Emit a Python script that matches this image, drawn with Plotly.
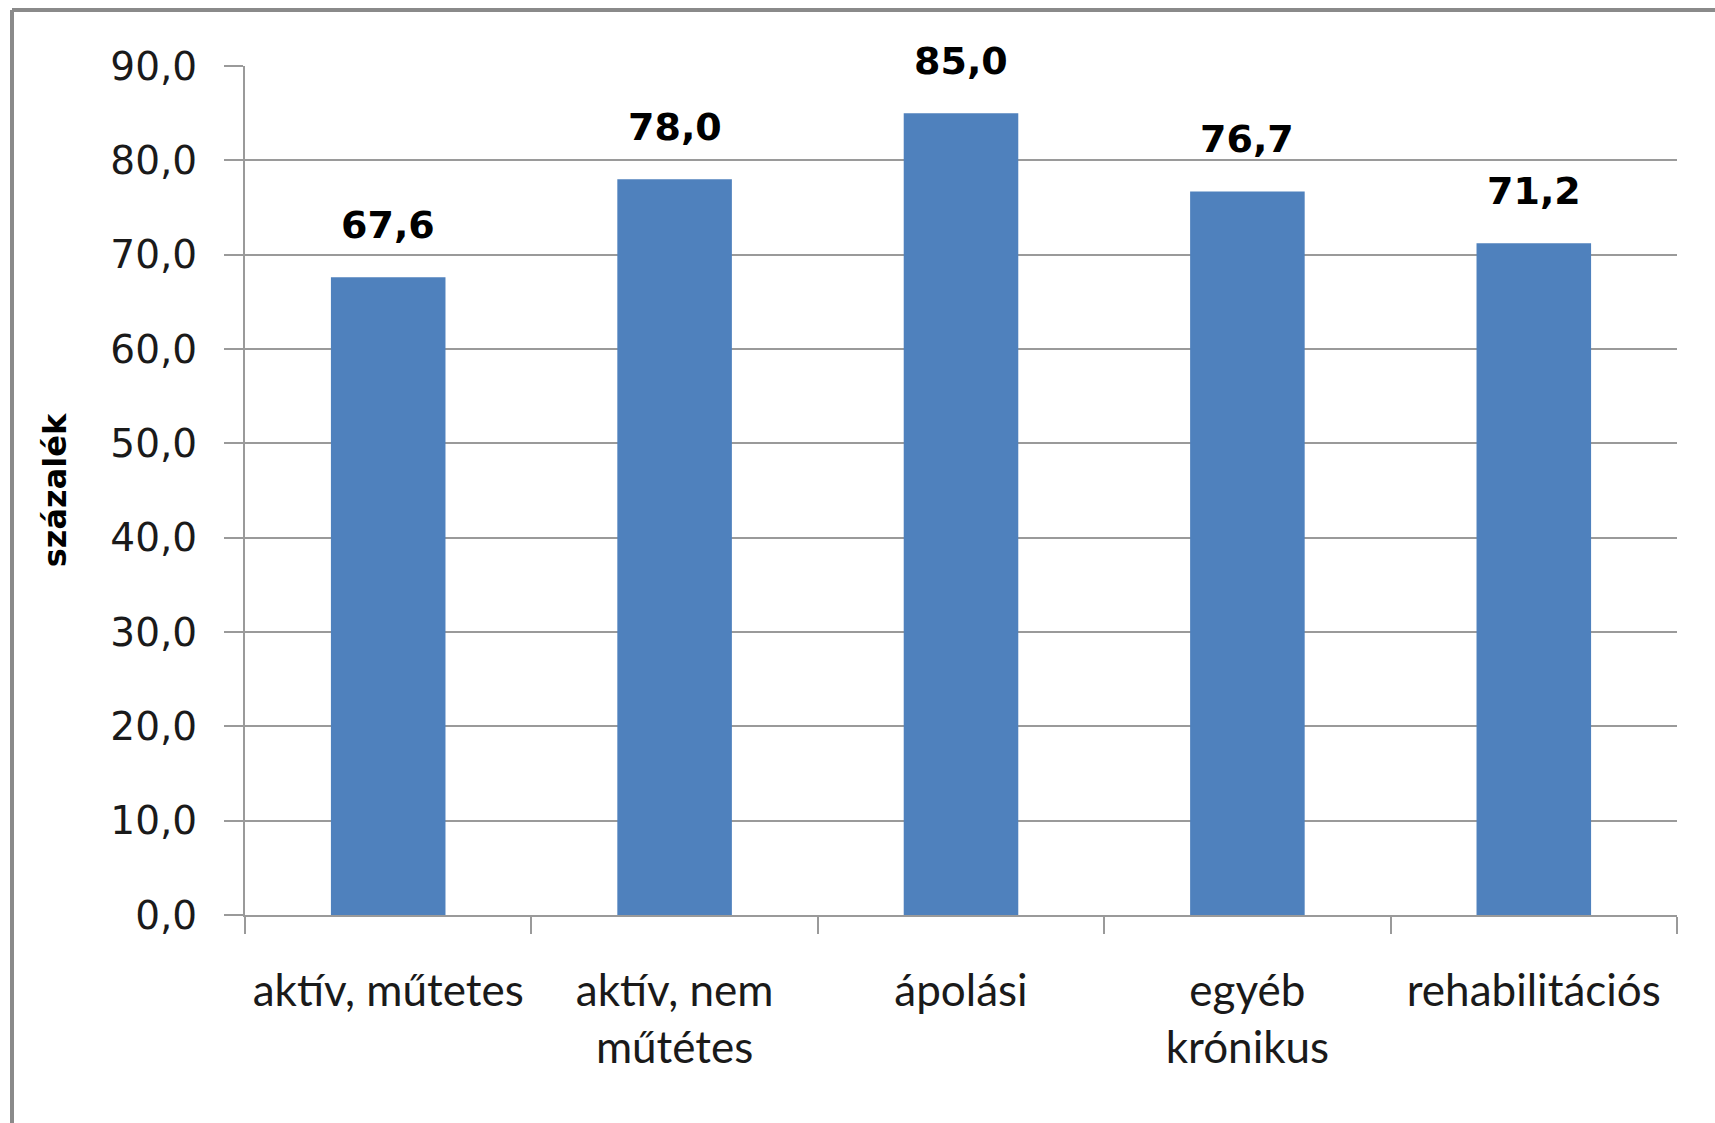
import plotly.graph_objects as go

categories = ["aktív, műtetes", "aktív, nem<br>műtétes", "ápolási", "egyéb<br>krónikus", "rehabilitációs"]
values = [67.6, 78.0, 85.0, 76.7, 71.2]
value_labels = ["67,6", "78,0", "85,0", "76,7", "71,2"]
y_ticks = [0, 10, 20, 30, 40, 50, 60, 70, 80, 90]
y_tick_labels = ["0,0", "10,0", "20,0", "30,0", "40,0", "50,0", "60,0", "70,0", "80,0", "90,0"]
y_title = "százalék"

W, H = 1715, 1123
L, T = 245, 66
R = W - 1677
B = H - 915
pw, ph = W - L - R, H - T - B

fig = go.Figure()
fig.add_trace(go.Bar(
    x=categories, y=values, width=0.4,
    marker=dict(color="#4F81BD", line=dict(width=0)),
    hoverinfo="skip",
))

for c, v, t in zip(categories, values, value_labels):
    fig.add_annotation(x=c, y=v, text=t, showarrow=False, yanchor="bottom", yshift=28,
                       font=dict(family="DejaVu Sans", size=38, color="#000000", weight="bold"))

grey = "#9a9a9a"
fig.update_layout(
    width=W, height=H,
    margin=dict(l=L, r=R, t=T, b=B),
    paper_bgcolor="white", plot_bgcolor="white",
    showlegend=False,
    bargap=0.6,
    xaxis=dict(
        tickson="boundaries", ticks="outside", ticklen=17, tickwidth=2, tickcolor=grey,
        showline=True, linecolor=grey, linewidth=2,
        showgrid=False,
        tickfont=dict(family="Lato", size=44, color="#1a1a1a"),
        ticklabelstandoff=36,
    ),
    yaxis=dict(
        range=[0, 90], tickvals=y_ticks, ticktext=y_tick_labels,
        ticks="outside", ticklen=19, tickwidth=2, tickcolor=grey,
        showline=True, linecolor=grey, linewidth=2,
        showgrid=True, gridcolor=grey, gridwidth=2,
        zeroline=False,
        tickfont=dict(family="DejaVu Sans", size=39, color="#1a1a1a"),
        ticklabelstandoff=19,
        title=dict(text=y_title, font=dict(family="DejaVu Sans", size=32, color="#000000", weight="bold"),
                   standoff=34),
    ),
)

# outer chart border (only top and left edges visible in the reference crop)
bx = (12 - L) / pw
by = (H - B - 10) / ph
fig.add_shape(type="line", xref="paper", yref="paper", x0=bx, x1=1.05, y0=by, y1=by,
              line=dict(color="#8a8a8a", width=4))
fig.add_shape(type="line", xref="paper", yref="paper", x0=bx, x1=bx, y0=by, y1=-0.3,
              line=dict(color="#8a8a8a", width=4))

fig.write_html("out.html",
               config={"displayModeBar": False},
               post_script="document.body.style.margin='0';document.body.style.overflow='hidden';")
